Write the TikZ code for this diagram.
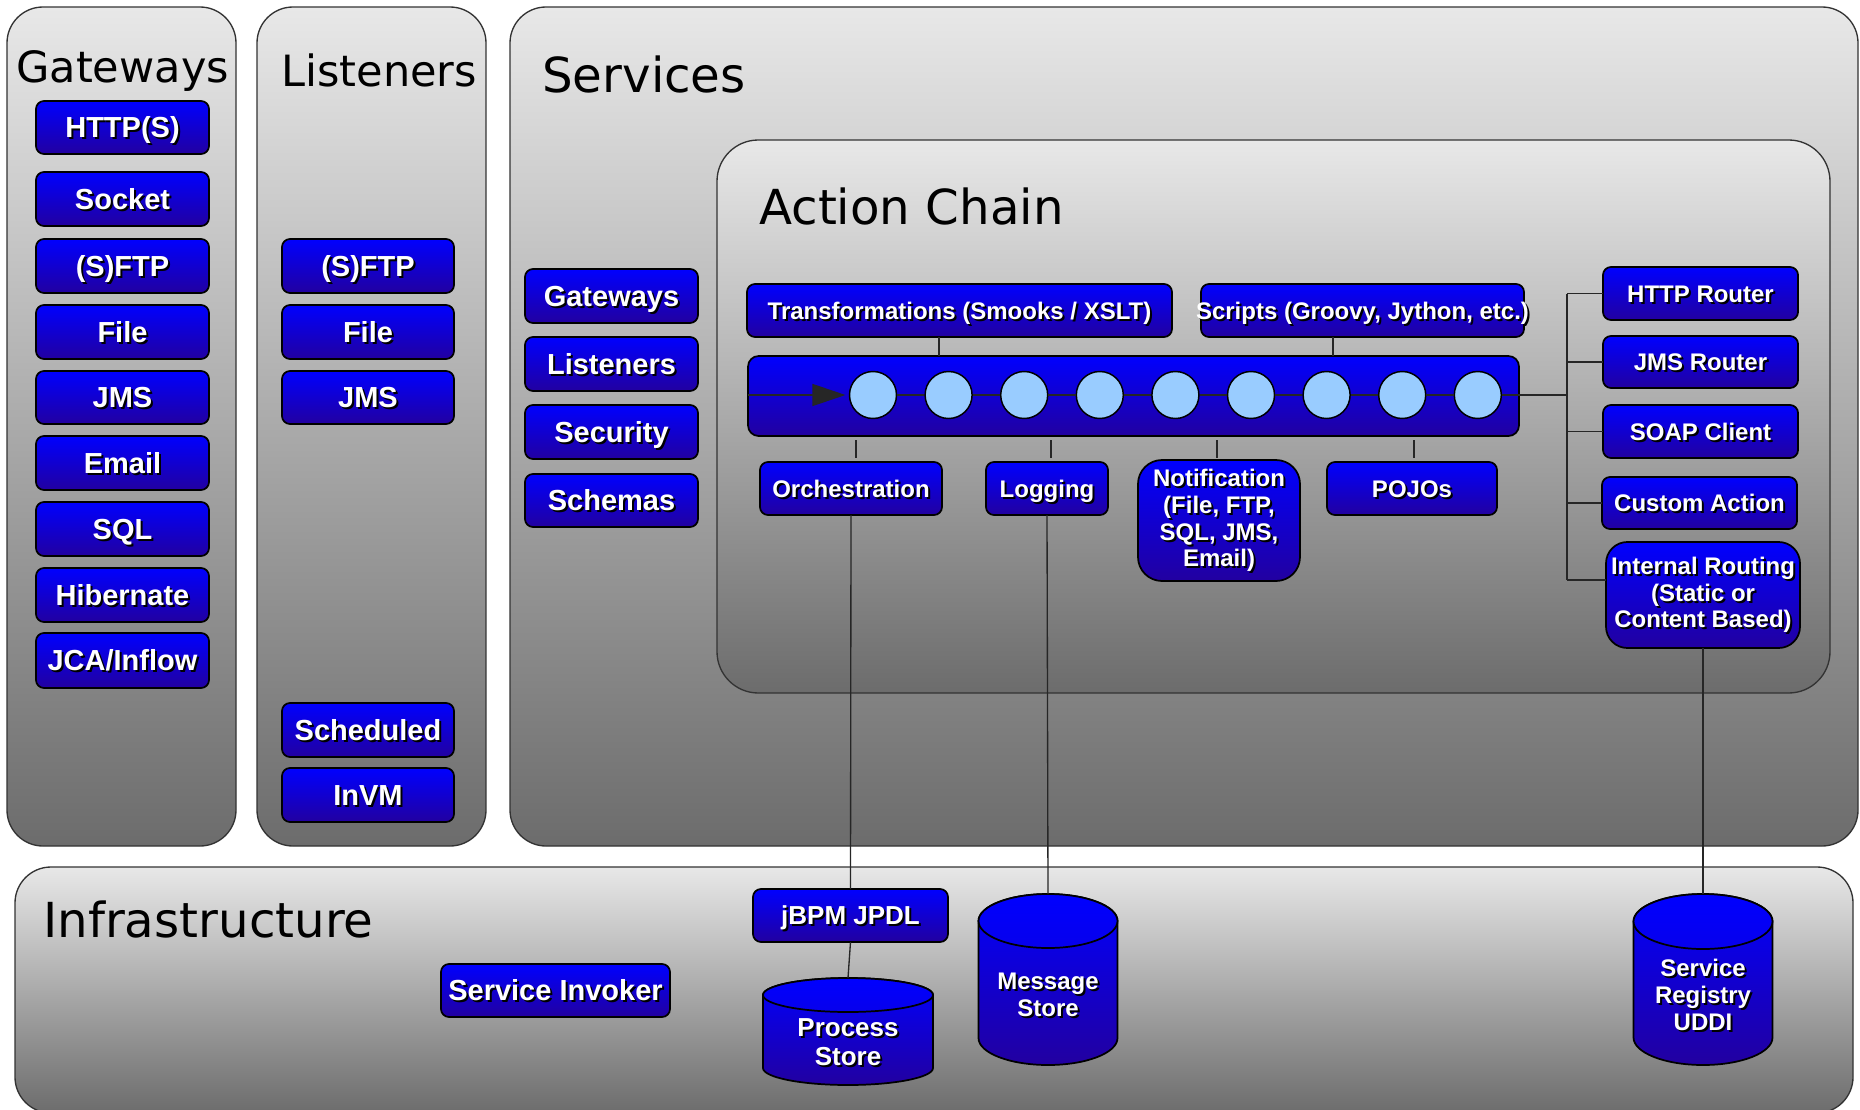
\documentclass[tikz,border=0pt]{standalone}
\usepackage{fontspec}
\setmainfont{Liberation Sans}
\newfontfamily\ttlfont{DejaVu Sans}
\usetikzlibrary{arrows.meta,fit}
\definecolor{bxtop}{RGB}{0,0,255}
\definecolor{bxbot}{RGB}{34,0,160}
\definecolor{pnltop}{RGB}{232,232,232}
\definecolor{pnlbot}{RGB}{108,108,108}
\definecolor{circfill}{RGB}{153,204,255}
\tikzset{
  panel/.style={draw=black!80, line width=1pt, rounded corners=27pt, top color=pnltop, bottom color=pnlbot, inner sep=0pt, outer sep=0pt},
  bxshape/.style={draw=black, line width=1.3pt, rounded corners=6pt, top color=bxtop, bottom color=bxbot, inner sep=0pt, outer sep=0pt},
  conn/.style={draw=black!85, line width=1pt},
  ttlA/.style={inner sep=0pt, anchor=base west, font=\ttlfont\fontsize{32.3}{37}\selectfont},
  ttlB/.style={inner sep=0pt, anchor=base west, font=\ttlfont\fontsize{36.2}{41}\selectfont},
  tbig/.style={text=white, inner sep=0pt, font=\bfseries\fontsize{21.75}{24}\selectfont, text height=15.6pt, text depth=0pt},
  tmed/.style={text=white, inner sep=0pt, font=\bfseries\fontsize{18}{20}\selectfont, text height=12.9pt, text depth=0pt},
  tjb/.style={text=white, inner sep=0pt, font=\bfseries\fontsize{19.5}{21.75}\selectfont, text height=14pt, text depth=0pt},
  tmulti/.style={text=white, inner sep=0pt, align=center, font=\bfseries\fontsize{18}{20}\selectfont},
  tmultib/.style={text=white, inner sep=0pt, align=center, font=\bfseries\fontsize{19.5}{21.75}\selectfont},
  circ/.style={circle, draw=black, line width=1.1pt, fill=circfill, minimum size=35.25pt, inner sep=0pt},
  cylbody/.style={draw=black, line width=1.3pt, top color=bxtop, bottom color=bxbot},
}
\newcommand\bx[5][]{%
  \node[bxshape, fit={#3}, #1] (#2) {};
  \node[#4, text=black] (#2-sh) at ([xshift=1.5pt,yshift=-1.5pt]#2.center) {#5};
  \node[#4] (#2-tx) at (#2.center) {#5};
}
\newcommand\sht[4]{%
  \node[#3, text=black] (#1-sh) at ([xshift=1.5pt,yshift=-1.5pt]#2) {#4};
  \node[#3] (#1) at (#2) {#4};
}
% cx, rx, yt, yb, ry (px)
\newcommand\cyl[5]{%
  \path[cylbody] (#1-#2,#4) arc[start angle=180, end angle=360, x radius=#2*0.75pt, y radius=#5*0.75pt]
    -- (#1+#2,#3) arc[start angle=0, end angle=180, x radius=#2*0.75pt, y radius=#5*0.75pt] -- cycle;
  \path[draw=black, line width=1.3pt, top color=bxtop, bottom color=bxtop!80!bxbot] (#1,#3) ellipse [x radius=#2*0.75pt, y radius=#5*0.75pt];
}
\begin{document}
\begin{tikzpicture}[x=0.75pt,y=-0.75pt]
\useasboundingbox (0,0) rectangle (1860,1110);
\fill[white] (0,0) rectangle (1860,1110);
\clip (0,0) rectangle (1860,1110);

% panels
\node[panel, fit={(7,7) (236,846)}] (pGate) {};
\node[panel, fit={(257,7) (486,846)}] (pList) {};
\node[panel, fit={(510,7) (1858,846)}] (pServ) {};
\node[panel, fit={(15,867) (1853,1113)}] (pInfra) {};
\node[panel, rounded corners=31pt, fit={(717,140) (1830,693)}] (pChain) {};

\node[ttlA] (tGate) at (16,82) {Gateways};
\node[ttlA] (tList) at (281,86) {Listeners};
\node[ttlB] (tServ) at (542,92) {Services};
\node[ttlB] (tChain) at (759,224) {Action Chain};
\node[ttlB] (tInfra) at (43,937) {Infrastructure};

% Gateways
\bx{g1}{(36,101) (209,154)}{tbig}{HTTP(S)}
\bx{g2}{(36,172) (209,226)}{tbig}{Socket}
\bx{g3}{(36,239) (209,293)}{tbig}{(S)FTP}
\bx{g4}{(36,305) (209,359)}{tbig}{File}
\bx{g5}{(36,371) (209,424)}{tbig}{JMS}
\bx{g6}{(36,436) (209,490)}{tbig}{Email}
\bx{g7}{(36,502) (209,556)}{tbig}{SQL}
\bx{g8}{(36,568) (209,622)}{tbig}{Hibernate}
\bx{g9}{(36,633) (209,688)}{tbig}{JCA/Inflow}

% Listeners
\bx{l1}{(282,239) (454,293)}{tbig}{(S)FTP}
\bx{l2}{(282,305) (454,359)}{tbig}{File}
\bx{l3}{(282,371) (454,424)}{tbig}{JMS}
\bx{l4}{(282,703) (454,757)}{tbig}{Scheduled}
\bx{l5}{(282,768) (454,822)}{tbig}{InVM}

% Services left column
\bx{s1}{(525,269) (698,323)}{tbig}{Gateways}
\bx{s2}{(525,337) (698,391)}{tbig}{Listeners}
\bx{s3}{(525,405) (698,459)}{tbig}{Security}
\bx{s4}{(525,474) (698,527)}{tbig}{Schemas}

% Action chain
\bx{trans}{(747,284) (1172,337)}{tmed}{Transformations (Smooks / XSLT)}
\bx{scripts}{(1201,284) (1524,337)}{tmed}{Scripts (Groovy, Jython, etc.)}
\node[bxshape, rounded corners=8pt, fit={(748,356) (1519,436)}] (bar) {};
\bx{orch}{(760,462) (942,515)}{tmed}{Orchestration}
\bx{logging}{(986,462) (1108,515)}{tmed}{Logging}
\bx[rounded corners=18pt]{notif}{(1138,460) (1300,581)}{tmulti}{Notification\\(File, FTP,\\SQL, JMS,\\Email)}
\bx{pojos}{(1327,462) (1497,515)}{tmed}{POJOs}
\bx{http}{(1603,267) (1798,320)}{tmed}{HTTP Router}
\bx{jmsr}{(1603,336) (1798,388)}{tmed}{JMS Router}
\bx{soap}{(1603,405) (1798,458)}{tmed}{SOAP Client}
\bx{custom}{(1602,477) (1797,529)}{tmed}{Custom Action}
\bx[rounded corners=16pt]{intr}{(1606,542) (1800,648)}{tmulti}{Internal Routing\\(Static or\\Content Based)}

% circles
\foreach \i in {1,...,9} \node[circ] (c\i) at ({873+75.6*(\i-1)},395) {};
\foreach \i [evaluate=\i as \j using int(\i+1)] in {1,...,8} \draw[conn] (c\i.east) -- (c\j.west);
\draw[conn, -{Triangle[length=24.75pt,width=16.5pt]}] (bar.west |- c1.west) -- ([xshift=-2.5pt]c1.west);

% right join
\coordinate (rj) at (1567,395);
\coordinate (rbot) at (1567,580);
\draw[conn] (c9.east) -- (rj);
\draw[conn] (rj |- http.west) -- (rbot);
\draw[conn] (http.west -| rj) -- (http.west);
\draw[conn] (jmsr.west -| rj) -- (jmsr.west);
\draw[conn] (soap.west -| rj) -- (soap.west);
\draw[conn] (custom.west -| rj) -- (custom.west);
\draw[conn] (rbot) -- (rbot -| intr.west);

% top connectors
\coordinate (xT) at (939,0);
\coordinate (xS) at (1333,0);
\draw[conn] (trans.south -| xT) -- (bar.north -| xT);
\draw[conn] (scripts.south -| xS) -- (bar.north -| xS);

% ticks
\coordinate (tx1) at (856,0);
\coordinate (tx2) at (1051,0);
\coordinate (tx3) at (1217,0);
\coordinate (tx4) at (1414,0);
\draw[conn] ([yshift=-3pt]bar.south -| tx1) -- ([yshift=3pt]orch.north -| tx1);
\draw[conn] ([yshift=-3pt]bar.south -| tx2) -- ([yshift=3pt]logging.north -| tx2);
\draw[conn] ([yshift=-3pt]bar.south -| tx3) -- ([yshift=1.5pt]notif.north -| tx3);
\draw[conn] ([yshift=-3pt]bar.south -| tx4) -- ([yshift=3pt]pojos.north -| tx4);

% Infrastructure
\bx{sinv}{(441,964) (670,1017)}{tbig}{Service Invoker}
\bx{jbpm}{(753,889) (948,942)}{tjb}{jBPM JPDL}

\cyl{848}{85}{995}{1068}{17}
\cyl{1048}{69.5}{921}{1038}{27}
\cyl{1703}{69.5}{921.5}{1037.5}{27.5}
\coordinate (pstore-top) at (848,978);
\coordinate (mstore-top) at (1048,894);
\coordinate (sreg-top) at (1703,894);
\sht{pstore}{848,1042}{tmultib}{Process\\Store}
\sht{mstore}{1048,995}{tmulti}{Message\\Store}
\sht{sreg}{1703,995}{tmulti}{Service\\Registry\\UDDI}

% long connectors
\draw[conn] (orch.south) -- (jbpm.north);
\draw[conn] (jbpm.south) -- (pstore-top);
\draw[conn] (logging.south) -- (mstore-top);
\draw[conn] (intr.south) -- (sreg-top);
\end{tikzpicture}
\end{document}
